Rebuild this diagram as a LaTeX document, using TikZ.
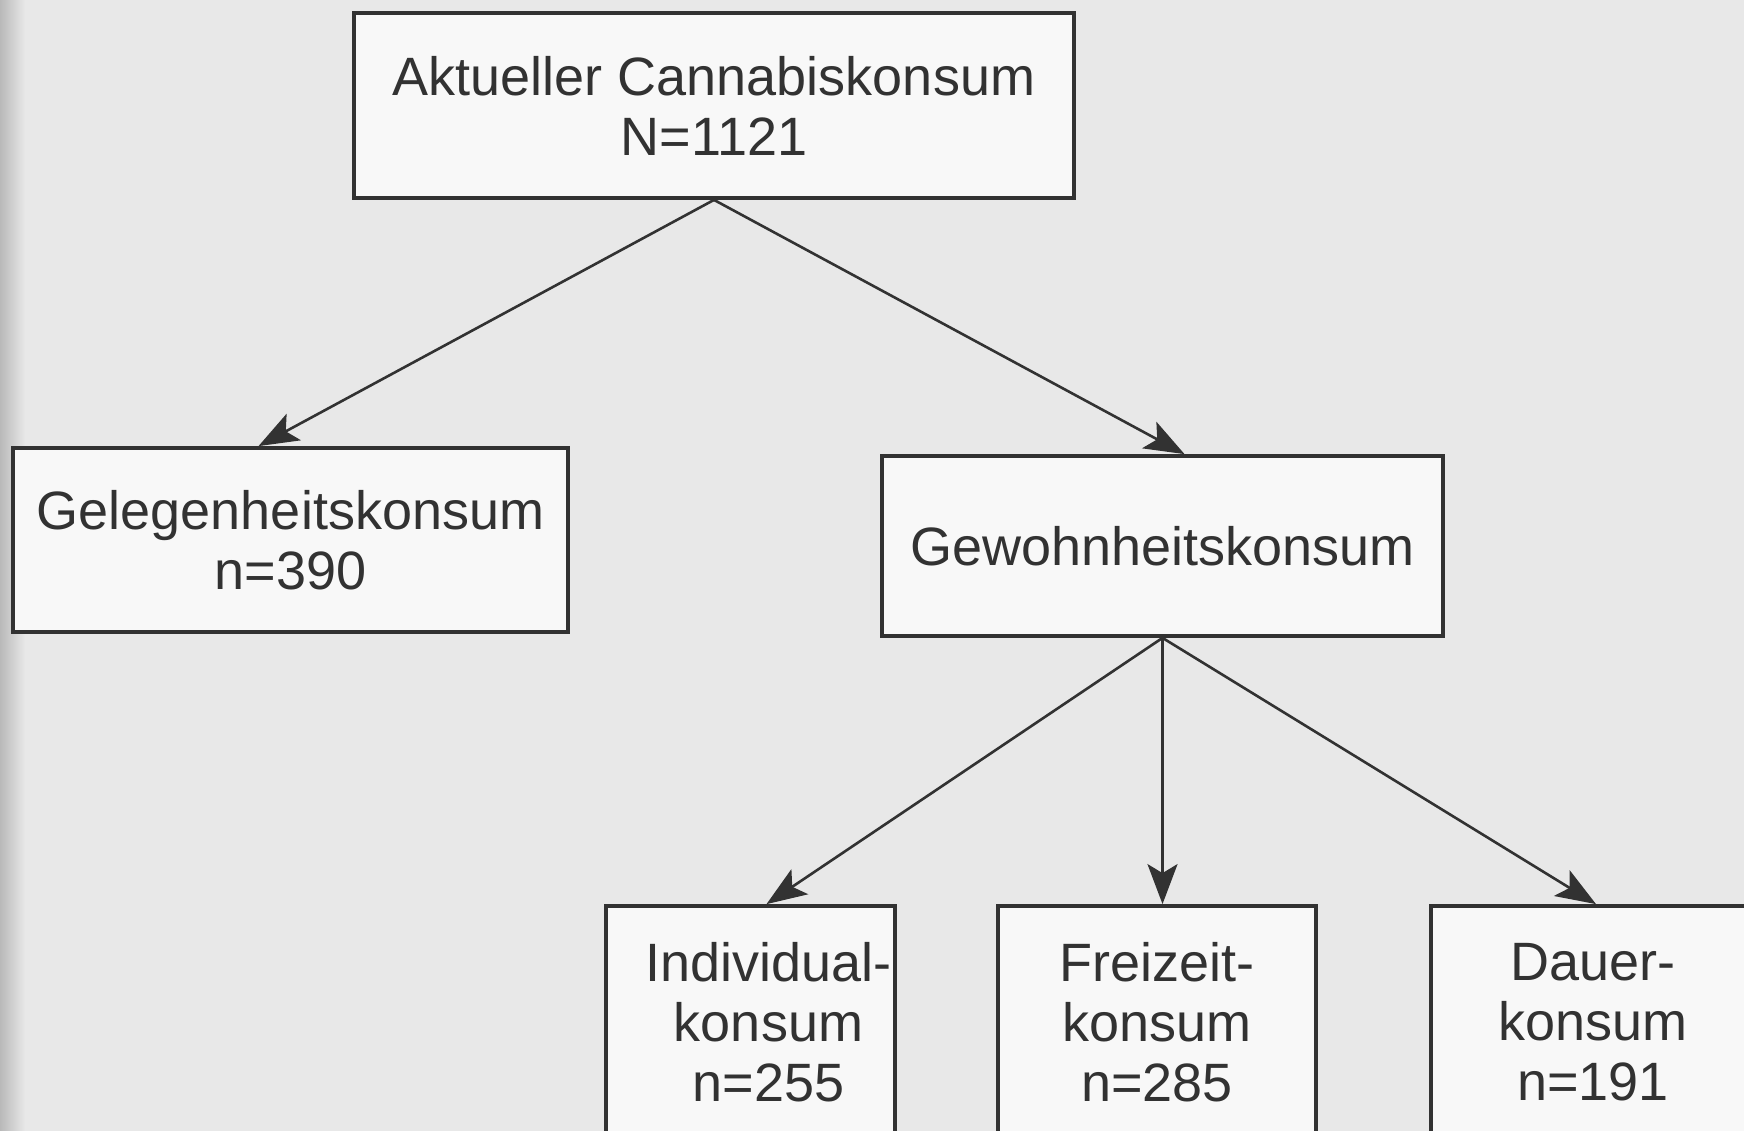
\documentclass[tikz,border=0pt]{standalone}
\usepackage{fontspec}
\setmainfont{Liberation Sans}
\usetikzlibrary{arrows.meta}
\definecolor{ink}{RGB}{50,50,50}
\definecolor{paper}{RGB}{232,232,232}
\definecolor{boxfill}{RGB}{248,248,248}
\begin{document}
\begin{tikzpicture}[x=1pt,y=-1pt,
    kbox/.style={draw=ink, line width=3.8pt, fill=boxfill, text=ink, align=center,
      inner sep=0pt, font=\fontsize{54}{60}\selectfont},
    link/.style={draw=ink, line width=2.6pt,
      -{Stealth[length=40pt,width=30pt,inset=9pt]}}]
  % page
  \fill[paper] (0,0) rectangle (1744,1131);
  \shade[left color=gray!55, right color=paper] (0,0) rectangle (25,1131);
  \useasboundingbox (0,0) rectangle (1744,1131);
  % boxes
  \node[kbox, minimum width=720pt, minimum height=185pt] (top) at (714,105.5)
    {Aktueller Cannabiskonsum\\N=1121};
  \node[kbox, minimum width=555pt, minimum height=184pt] (gel) at (290.5,540)
    {Gelegenheitskonsum\\n=390};
  \node[kbox, minimum width=561pt, minimum height=180pt] (gew) at (1162.5,546)
    {Gewohnheitskonsum};
  \node[kbox, minimum width=289pt, minimum height=233pt] (ind) at (750.5,1022.5)
    {\hspace*{36pt}Individual-\\\hspace*{36pt}konsum\\\hspace*{36pt}n=255};
  \node[kbox, minimum width=318pt, minimum height=233pt] (frei) at (1157,1022.5)
    {Freizeit-\\konsum\\n=285};
  \node[kbox, minimum width=324pt, minimum height=233pt] (dau) at (1593,1022.5)
    {Dauer-\\konsum\\n=191};
  % arrows
  \draw[link] (top.south) -- ([xshift=-32pt]gel.north);
  \draw[link] (top.south) -- ([xshift=22pt]gew.north);
  \draw[link] (gew.south) -- ([xshift=16pt]ind.north);
  \draw[link] (gew.south) -- (gew.south |- frei.north);
  \draw[link] (gew.south) -- ([xshift=3pt]dau.north);
\end{tikzpicture}
\end{document}
